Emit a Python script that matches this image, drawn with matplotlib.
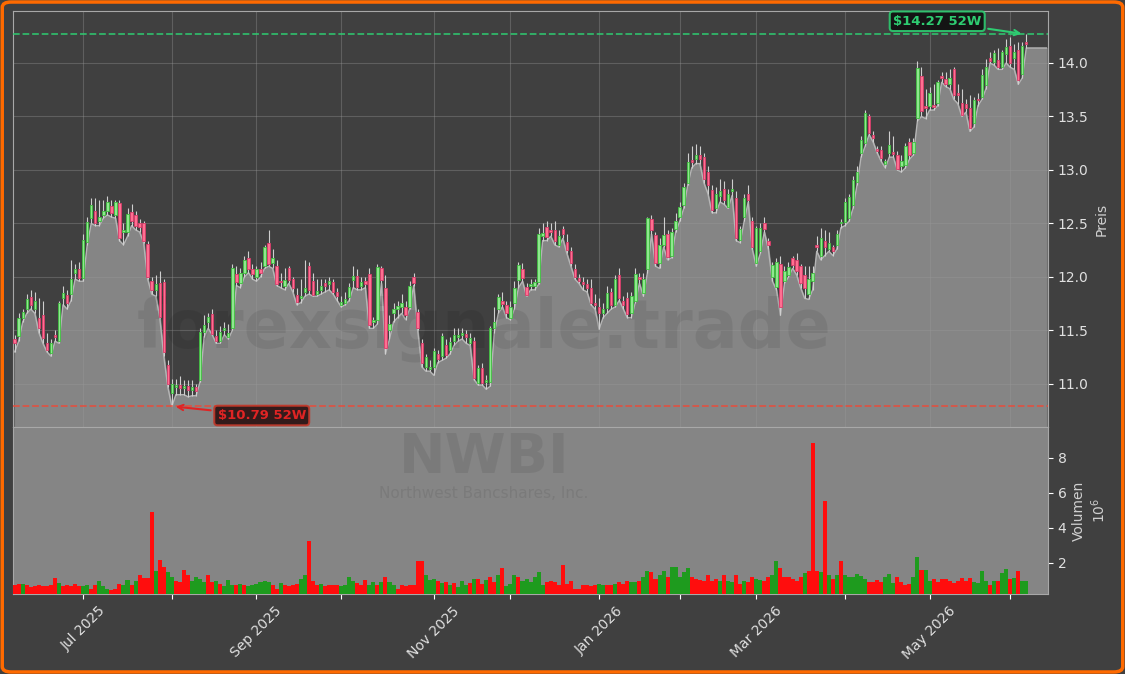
"""
NWBI daily candles with volume panel, dark theme.
"""
import numpy as np
import pandas as pd
import matplotlib
matplotlib.use("Agg")
import matplotlib.pyplot as plt
from matplotlib.patches import FancyBboxPatch

opens = [11.42, 11.45, 11.62, 11.70, 11.81, 11.70, 11.62, 11.64, 11.38, 11.29,
         11.46, 11.40, 11.80, 11.83, 11.84, 12.04, 12.07, 11.99, 12.33, 12.55,
         12.62, 12.52, 12.58, 12.62, 12.66, 12.58, 12.69, 12.42, 12.42, 12.61,
         12.58, 12.50, 12.50, 12.31, 11.96, 11.88, 11.94, 11.95, 11.18, 10.92,
         10.97, 10.99, 10.96, 10.98, 10.94, 10.97, 11.04, 11.49, 11.58, 11.65,
         11.45, 11.40, 11.50, 11.44, 11.52, 12.03, 11.94, 12.04, 12.18, 12.07,
         12.00, 12.07, 12.10, 12.32, 12.13, 12.10, 11.96, 11.92, 12.08, 11.98,
         11.83, 11.80, 11.86, 12.10, 11.96, 11.84, 11.88, 11.94, 11.93, 11.95,
         11.86, 11.74, 11.76, 11.81, 11.97, 12.01, 11.92, 11.96, 12.03, 11.58,
         11.60, 12.08, 11.90, 11.50, 11.66, 11.70, 11.72, 11.72, 11.72, 12.00,
         11.67, 11.38, 11.16, 11.14, 11.16, 11.28, 11.26, 11.36, 11.32, 11.40,
         11.44, 11.46, 11.47, 11.38, 11.40, 11.01, 11.15, 11.02, 11.02, 11.52,
         11.70, 11.78, 11.74, 11.62, 11.76, 11.97, 12.07, 11.91, 11.92, 11.92,
         11.95, 12.38, 12.47, 12.44, 12.44, 12.30, 12.45, 12.33, 12.24, 12.07,
         11.99, 11.95, 11.93, 11.90, 11.76, 11.72, 11.66, 11.71, 11.86, 11.74,
         12.02, 11.78, 11.80, 11.66, 11.78, 12.00, 11.85, 12.07, 12.54, 12.39,
         12.13, 12.30, 12.40, 12.20, 12.45, 12.56, 12.67, 12.88, 13.09, 13.10,
         13.14, 13.12, 12.98, 12.81, 12.64, 12.76, 12.82, 12.65, 12.80, 12.74,
         12.35, 12.56, 12.78, 12.52, 12.13, 12.24, 12.50, 12.34, 12.00, 11.91,
         12.12, 11.96, 12.02, 12.18, 12.16, 12.10, 12.02, 11.84, 11.96, 12.30,
         12.20, 12.34, 12.26, 12.28, 12.30, 12.50, 12.51, 12.55, 12.67, 12.89,
         13.16, 13.25, 13.50, 13.33, 13.20, 13.19, 13.06, 13.16, 13.16, 13.14,
         13.04, 13.05, 13.26, 13.16, 13.49, 13.88, 13.60, 13.60, 13.60, 13.63,
         13.88, 13.85, 13.80, 13.94, 13.72, 13.63, 13.62, 13.58, 13.44, 13.66,
         13.68, 13.79, 14.05, 14.01, 14.03, 13.96, 14.08, 14.16, 14.05, 14.12,
         13.90, 14.20]
highs = [11.46, 11.66, 11.70, 11.84, 11.88, 11.86, 11.80, 11.78, 11.48, 11.42,
         11.50, 11.78, 11.92, 11.88, 12.16, 12.12, 12.14, 12.40, 12.56, 12.74,
         12.74, 12.72, 12.72, 12.76, 12.72, 12.72, 12.72, 12.50, 12.64, 12.68,
         12.62, 12.54, 12.52, 12.34, 12.00, 12.02, 12.06, 11.98, 11.22, 11.05,
         11.05, 11.07, 11.04, 11.04, 11.04, 11.00, 11.52, 11.64, 11.66, 11.70,
         11.50, 11.54, 11.58, 11.56, 12.12, 12.10, 12.08, 12.20, 12.24, 12.12,
         12.10, 12.14, 12.30, 12.44, 12.26, 12.16, 12.04, 12.08, 12.10, 12.00,
         11.90, 11.98, 12.16, 12.14, 12.04, 11.98, 11.98, 11.98, 12.00, 11.98,
         11.90, 11.82, 11.86, 11.94, 12.10, 12.07, 12.00, 12.00, 12.08, 11.63,
         12.12, 12.10, 12.02, 11.64, 11.76, 11.78, 11.84, 11.78, 11.96, 12.04,
         11.70, 11.42, 11.28, 11.22, 11.34, 11.32, 11.48, 11.42, 11.44, 11.52,
         11.52, 11.52, 11.50, 11.48, 11.44, 11.18, 11.20, 11.08, 11.54, 11.72,
         11.84, 11.86, 11.78, 11.78, 11.96, 12.14, 12.13, 11.94, 11.98, 11.98,
         12.46, 12.50, 12.52, 12.50, 12.52, 12.44, 12.48, 12.40, 12.28, 12.12,
         12.03, 12.00, 11.98, 11.98, 11.84, 11.80, 11.76, 11.92, 11.90, 12.02,
         12.08, 11.82, 11.86, 11.86, 12.08, 12.04, 12.04, 12.56, 12.58, 12.42,
         12.36, 12.56, 12.44, 12.46, 12.60, 12.70, 12.88, 13.16, 13.22, 13.24,
         13.22, 13.16, 13.04, 12.86, 12.84, 12.92, 12.90, 12.82, 12.92, 12.80,
         12.48, 12.78, 12.86, 12.56, 12.48, 12.50, 12.56, 12.36, 12.14, 12.18,
         12.20, 12.10, 12.14, 12.20, 12.22, 12.12, 12.10, 12.10, 12.10, 12.38,
         12.46, 12.44, 12.42, 12.30, 12.44, 12.54, 12.74, 12.78, 12.94, 13.04,
         13.32, 13.56, 13.52, 13.36, 13.22, 13.22, 13.10, 13.36, 13.32, 13.18,
         13.14, 13.25, 13.30, 13.30, 14.02, 13.96, 13.76, 13.78, 13.80, 13.84,
         13.92, 13.92, 13.94, 13.96, 13.80, 13.76, 13.66, 13.70, 13.68, 13.72,
         13.94, 14.04, 14.10, 14.12, 14.14, 14.12, 14.22, 14.24, 14.18, 14.20,
         14.20, 14.27]
lows = [11.30, 11.40, 11.58, 11.66, 11.70, 11.66, 11.48, 11.38, 11.30, 11.26,
        11.40, 11.38, 11.74, 11.70, 11.78, 11.98, 11.96, 11.96, 12.30, 12.50,
        12.48, 12.48, 12.55, 12.58, 12.56, 12.55, 12.34, 12.30, 12.38, 12.48,
        12.44, 12.42, 12.32, 11.98, 11.84, 11.82, 11.62, 11.26, 10.97, 10.79,
        10.90, 10.90, 10.90, 10.88, 10.89, 10.89, 11.02, 11.44, 11.52, 11.46,
        11.38, 11.38, 11.46, 11.42, 11.50, 11.92, 11.90, 12.00, 12.04, 11.98,
        11.96, 12.00, 12.08, 12.10, 12.08, 11.92, 11.90, 11.88, 11.94, 11.86,
        11.74, 11.76, 11.82, 11.84, 11.82, 11.82, 11.84, 11.86, 11.88, 11.84,
        11.78, 11.72, 11.74, 11.78, 11.90, 11.88, 11.88, 11.90, 11.52, 11.52,
        11.56, 11.94, 11.28, 11.42, 11.58, 11.62, 11.66, 11.60, 11.70, 11.92,
        11.50, 11.16, 11.12, 11.12, 11.08, 11.20, 11.22, 11.24, 11.28, 11.36,
        11.40, 11.42, 11.38, 11.36, 11.04, 10.99, 10.99, 10.95, 10.98, 11.48,
        11.66, 11.72, 11.62, 11.60, 11.70, 11.90, 11.96, 11.82, 11.88, 11.88,
        11.93, 12.34, 12.34, 12.38, 12.30, 12.28, 12.36, 12.22, 12.10, 11.98,
        11.94, 11.88, 11.86, 11.74, 11.70, 11.51, 11.62, 11.66, 11.70, 11.72,
        11.78, 11.70, 11.62, 11.62, 11.76, 11.94, 11.82, 12.04, 12.40, 12.10,
        12.08, 12.28, 12.16, 12.18, 12.42, 12.52, 12.64, 12.86, 13.02, 13.06,
        13.06, 12.88, 12.78, 12.60, 12.60, 12.70, 12.68, 12.64, 12.76, 12.34,
        12.32, 12.52, 12.70, 12.26, 12.10, 12.22, 12.42, 12.26, 11.96, 11.88,
        11.64, 11.94, 12.00, 12.08, 12.02, 11.90, 11.80, 11.79, 11.88, 12.24,
        12.16, 12.20, 12.24, 12.20, 12.26, 12.46, 12.48, 12.52, 12.64, 12.86,
        13.12, 13.22, 13.33, 13.26, 13.16, 13.08, 13.02, 13.12, 13.12, 13.00,
        12.98, 13.02, 13.10, 13.14, 13.46, 13.50, 13.48, 13.56, 13.56, 13.60,
        13.82, 13.78, 13.76, 13.66, 13.62, 13.50, 13.54, 13.36, 13.40, 13.60,
        13.66, 13.76, 14.00, 13.98, 13.94, 13.94, 14.00, 13.96, 13.94, 13.80,
        13.86, 14.14]
closes = [11.38, 11.62, 11.67, 11.79, 11.74, 11.78, 11.52, 11.43, 11.32, 11.38,
          11.44, 11.76, 11.85, 11.76, 11.98, 12.07, 11.99, 12.35, 12.51, 12.67,
          12.50, 12.56, 12.62, 12.70, 12.60, 12.70, 12.36, 12.43, 12.59, 12.52,
          12.48, 12.47, 12.34, 12.00, 11.88, 11.93, 11.63, 11.30, 11.00, 11.00,
          10.99, 10.96, 10.98, 10.94, 10.97, 10.93, 11.49, 11.55, 11.63, 11.47,
          11.40, 11.49, 11.52, 11.48, 12.08, 11.95, 12.04, 12.16, 12.07, 12.03,
          12.07, 12.04, 12.28, 12.12, 12.18, 11.93, 11.95, 11.97, 11.97, 11.90,
          11.77, 11.82, 11.90, 11.88, 11.83, 11.87, 11.92, 11.92, 11.96, 11.86,
          11.82, 11.77, 11.79, 11.91, 12.01, 11.91, 11.95, 11.93, 11.55, 11.60,
          12.09, 11.97, 11.34, 11.56, 11.70, 11.73, 11.76, 11.64, 11.92, 11.94,
          11.52, 11.20, 11.25, 11.16, 11.31, 11.23, 11.45, 11.27, 11.39, 11.46,
          11.46, 11.47, 11.44, 11.43, 11.06, 11.15, 11.01, 11.04, 11.52, 11.58,
          11.81, 11.75, 11.66, 11.72, 11.90, 12.11, 11.99, 11.83, 11.93, 11.95,
          12.40, 12.41, 12.37, 12.42, 12.34, 12.38, 12.40, 12.25, 12.13, 12.00,
          11.96, 11.93, 11.90, 11.76, 11.74, 11.66, 11.70, 11.85, 11.74, 11.98,
          11.80, 11.74, 11.65, 11.82, 12.03, 11.98, 11.98, 12.55, 12.44, 12.13,
          12.30, 12.39, 12.19, 12.42, 12.52, 12.65, 12.84, 13.07, 13.07, 13.14,
          13.10, 12.92, 12.86, 12.63, 12.78, 12.80, 12.72, 12.78, 12.82, 12.36,
          12.45, 12.74, 12.72, 12.28, 12.46, 12.46, 12.45, 12.30, 12.11, 12.14,
          11.72, 12.06, 12.09, 12.11, 12.06, 11.94, 11.90, 11.98, 12.04, 12.28,
          12.36, 12.28, 12.32, 12.24, 12.40, 12.51, 12.70, 12.75, 12.91, 12.98,
          13.28, 13.53, 13.35, 13.30, 13.18, 13.11, 13.08, 13.23, 13.15, 13.01,
          13.08, 13.22, 13.14, 13.26, 13.95, 13.55, 13.58, 13.72, 13.59, 13.82,
          13.86, 13.80, 13.86, 13.70, 13.70, 13.51, 13.58, 13.39, 13.65, 13.65,
          13.89, 13.96, 14.02, 14.09, 13.96, 14.10, 14.15, 14.00, 14.10, 13.84,
          14.16, 14.18]
# volume in millions
volumes = [0.69, 0.78, 0.78, 0.74, 0.59, 0.63, 0.74, 0.63, 0.63, 0.70,
           1.09, 0.82, 0.63, 0.74, 0.63, 0.78, 0.66, 0.63, 0.74, 0.50,
           0.74, 0.95, 0.63, 0.48, 0.44, 0.50, 0.78, 0.74, 1.01, 0.74,
           0.97, 1.30, 1.11, 1.11, 4.91, 1.50, 2.17, 1.77, 1.45, 1.16,
           0.93, 0.88, 1.60, 1.31, 0.93, 1.16, 1.07, 0.88, 1.26, 0.88,
           0.93, 0.78, 0.63, 1.01, 0.69, 0.69, 0.78, 0.69, 0.63, 0.69,
           0.78, 0.88, 0.93, 0.88, 0.69, 0.50, 0.82, 0.69, 0.63, 0.69,
           0.78, 1.07, 1.26, 3.22, 0.97, 0.74, 0.78, 0.63, 0.74, 0.69,
           0.69, 0.63, 0.69, 1.20, 0.97, 0.82, 0.74, 1.01, 0.69, 0.88,
           0.69, 0.88, 1.20, 0.88, 0.74, 0.50, 0.74, 0.63, 0.74, 0.74,
           2.11, 2.11, 1.26, 1.01, 1.07, 0.93, 0.82, 0.88, 0.74, 0.82,
           0.59, 0.93, 0.74, 0.82, 1.07, 1.07, 0.78, 1.01, 1.20, 0.88,
           1.31, 1.68, 0.63, 0.78, 1.31, 1.16, 0.93, 1.07, 0.88, 1.16,
           1.43, 0.74, 0.88, 0.93, 0.86, 0.74, 1.83, 0.78, 0.97, 0.50,
           0.50, 0.69, 0.69, 0.63, 0.69, 0.78, 0.74, 0.69, 0.74, 0.78,
           0.91, 0.78, 0.93, 0.88, 0.88, 0.97, 1.16, 1.54, 1.45, 1.07,
           1.26, 1.54, 1.16, 1.73, 1.77, 1.20, 1.45, 1.70, 1.20, 1.07,
           1.01, 0.97, 1.26, 0.93, 1.07, 0.93, 1.31, 0.97, 0.88, 1.26,
           0.78, 0.97, 0.88, 1.20, 1.07, 1.01, 0.93, 1.16, 1.31, 2.11,
           1.70, 1.20, 1.16, 1.07, 0.93, 1.16, 1.39, 1.50, 8.82, 1.50,
           1.45, 5.50, 1.31, 1.07, 1.31, 2.08, 1.31, 1.16, 1.20, 1.35,
           1.24, 1.07, 0.88, 0.88, 1.01, 0.88, 1.16, 1.35, 0.82, 1.16,
           0.88, 0.74, 0.78, 1.16, 2.30, 1.58, 1.58, 0.97, 1.07, 0.88,
           1.07, 1.07, 0.97, 0.82, 0.93, 1.09, 0.97, 1.09, 0.88, 0.82,
           1.49, 0.97, 0.69, 0.97, 0.93, 1.39, 1.64, 1.07, 1.09, 1.49,
           0.97, 0.97]
# 1 = green volume bar, 0 = red volume bar
vol_up = [0, 0, 1, 0, 0, 0, 0, 0, 0, 0,
          0, 1, 0, 0, 0, 0, 0, 1, 1, 0,
          0, 1, 1, 1, 0, 0, 0, 1, 1, 0,
          1, 0, 0, 0, 0, 1, 0, 0, 1, 1,
          0, 0, 0, 0, 1, 1, 1, 1, 0, 0,
          1, 0, 1, 1, 1, 0, 1, 0, 1, 1,
          1, 1, 1, 1, 0, 0, 1, 0, 0, 0,
          0, 1, 1, 0, 0, 0, 1, 0, 0, 0,
          0, 1, 1, 1, 1, 0, 0, 0, 1, 1,
          0, 1, 0, 1, 1, 0, 0, 0, 0, 0,
          0, 0, 1, 1, 1, 0, 1, 0, 1, 0,
          1, 1, 1, 0, 1, 0, 0, 1, 0, 0,
          1, 0, 1, 1, 1, 0, 1, 1, 1, 1,
          1, 1, 0, 0, 0, 0, 0, 0, 0, 0,
          0, 0, 0, 0, 0, 1, 1, 0, 0, 1,
          0, 0, 0, 1, 1, 0, 1, 1, 0, 0,
          1, 1, 0, 1, 1, 1, 1, 1, 0, 0,
          0, 0, 0, 0, 0, 1, 0, 1, 1, 0,
          0, 1, 0, 0, 1, 1, 0, 0, 1, 1,
          0, 0, 0, 0, 0, 0, 1, 0, 0, 0,
          1, 0, 1, 0, 1, 0, 1, 1, 1, 1,
          1, 1, 0, 0, 0, 0, 1, 1, 1, 0,
          0, 0, 0, 1, 1, 0, 1, 1, 0, 0,
          0, 0, 0, 0, 0, 0, 0, 0, 1, 1,
          1, 1, 0, 1, 0, 1, 1, 0, 1, 0,
          1, 1]

ticker = "NWBI"
company = "Northwest Bancshares, Inc."
high_52w = 14.27
low_52w = 10.79

# trading calendar (US market holidays removed)
holidays = ["2025-06-19", "2025-07-04", "2025-09-01", "2025-11-27", "2025-12-25",
            "2026-01-01", "2026-01-19", "2026-02-16", "2026-04-03", "2026-05-25"]
dates = pd.bdate_range("2025-06-05", periods=len(closes), freq="C", holidays=holidays)

BG = "#404040"
FILL = "#858585"
UP = "#8fe88f"
DOWN = "#ff6f91"

n = len(closes)
x = np.arange(n)
o = np.array(opens)
h = np.array(highs)
lo = np.array(lows)
c = np.array(closes)
up = c >= o

fig = plt.figure(figsize=(11.25, 6.74), dpi=100, facecolor=BG)
ax = fig.add_axes([0.0116, 0.3665, 0.92, 0.6172], facecolor=BG)
axv = fig.add_axes([0.0116, 0.1187, 0.92, 0.2478], facecolor=FILL, sharex=ax)

xmax = n + 4.4
ymin, ymax = 10.598, 14.486

# grey area under the lows, carried on to the right edge
xf = np.append(x, xmax - 0.4)
lf = np.append(lo, lo[-1])
ax.fill_between(xf, lf, ymin, color=FILL, zorder=1)
ax.plot(xf, lf, color="#b5b5b5", lw=1.0, zorder=2)

# candles
ax.vlines(x, lo, h, color="#cfcfcf", lw=0.8, zorder=3)
body = np.abs(c - o)
body = np.where(body < 0.015, 0.015, body)
ax.bar(x, body, bottom=np.minimum(o, c), width=0.6,
       color=np.where(up, UP, DOWN), edgecolor=np.where(up, "#3fbf3f", "#d83c6a"),
       linewidth=0.6, zorder=4)

# 52 week lines
ax.axhline(high_52w, color="#2ecc71", ls="--", lw=1.3, alpha=0.85, zorder=5)
ax.axhline(low_52w, color="#e74c3c", ls="--", lw=1.3, alpha=0.85, zorder=5)
i_hi = int(np.argmax(h))
i_lo = int(np.argmin(lo))
ax.annotate(f"${high_52w:.2f} 52W", xy=(i_hi - 0.5, high_52w), xytext=(228.9, 14.39),
            color="#2ecc71", fontsize=9.5, fontweight="bold", ha="center", va="center",
            bbox=dict(boxstyle="round,pad=0.25", fc="#101010", ec="#2ecc71", lw=1.5, alpha=0.9),
            arrowprops=dict(arrowstyle="->", color="#2ecc71", lw=1.5), zorder=7)
ax.annotate(f"${low_52w:.2f} 52W", xy=(i_lo + 0.3, low_52w), xytext=(61.3, 10.705),
            color="#e02424", fontsize=9.5, fontweight="bold", ha="center", va="center",
            bbox=dict(boxstyle="round,pad=0.25", fc="#2a1010", ec="#c0392b", lw=1.5, alpha=0.9),
            arrowprops=dict(arrowstyle="->", color="#e02424", lw=1.5), zorder=7)

ax.text(0.455, 0.235, "forexsignale.trade", transform=ax.transAxes, fontsize=48,
        fontweight="bold", color="black", alpha=0.08, ha="center", va="center", zorder=2)

ax.set_xlim(-0.4, xmax)
ax.set_ylim(ymin, ymax)
ax.yaxis.tick_right()
ax.yaxis.set_label_position("right")
ax.set_yticks([11.0, 11.5, 12.0, 12.5, 13.0, 13.5, 14.0])
ax.set_ylabel("Preis", color="#d0d0d0", fontsize=10)
ax.tick_params(axis="x", labelbottom=False, length=0)
ax.tick_params(axis="y", colors="white", labelcolor="#e0e0e0", labelsize=10)
ax.grid(True, color="#9a9a9a", alpha=0.35, lw=0.8)
for s in ax.spines.values():
    s.set_color("#a8a8a8")

# volume panel
axv.bar(x, volumes, width=1.0, color=np.where(np.array(vol_up) == 1, "#1e9b1e", "#ff0d0d"), zorder=3)
axv.set_ylim(0.2, 9.75)
axv.set_yticks([2, 4, 6, 8])
axv.yaxis.tick_right()
axv.yaxis.set_label_position("right")
axv.set_ylabel("Volumen\n$10^6$", color="#d0d0d0", fontsize=10)
axv.tick_params(axis="y", colors="white", labelcolor="#e0e0e0", labelsize=10)
axv.tick_params(axis="x", colors="white", labelcolor="#e0e0e0", labelsize=10)
for s in axv.spines.values():
    s.set_color("#a8a8a8")
axv.text(0.455, 0.815, ticker, transform=axv.transAxes, fontsize=40, fontweight="bold",
         color="black", alpha=0.08, ha="center", va="center", zorder=1)
axv.text(0.455, 0.60, company, transform=axv.transAxes, fontsize=11,
         color="black", alpha=0.08, ha="center", va="center", zorder=1)

# monthly ticks, label every other month
month_first = pd.Series(np.arange(n), index=dates).groupby(dates.to_period("M")).first()
tick_pos = month_first.values[1:]
tick_lab = [p.strftime("%b %Y") if p.month % 2 == 1 else "" for p in month_first.index[1:]]
ax.set_xticks(tick_pos)
axv.set_xticks(tick_pos)
axv.set_xticklabels(tick_lab, rotation=45, ha="center")

# orange rounded border
fig.patches.append(FancyBboxPatch((0.002, 0.003), 0.996, 0.994,
                                  boxstyle="round,pad=0,rounding_size=0.008",
                                  transform=fig.transFigure, fc="none", ec="#ff6a00", lw=2.5))

fig.savefig("out.png", dpi=100, facecolor=BG)
